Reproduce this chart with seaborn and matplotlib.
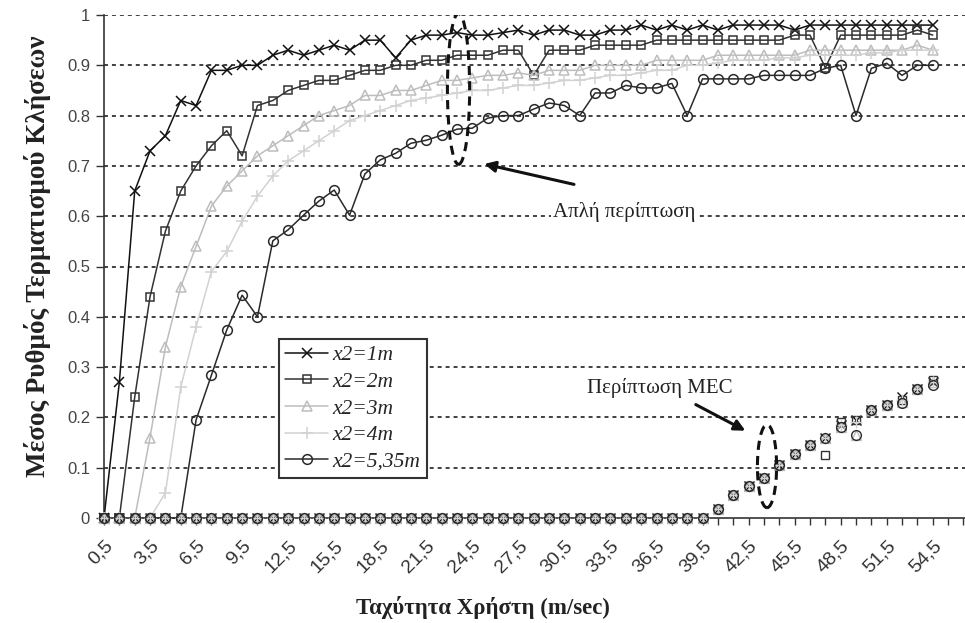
import numpy as np
import pandas as pd
import matplotlib
matplotlib.use("Agg")
import matplotlib.pyplot as plt
import seaborn as sns
from matplotlib.patches import Ellipse

# ---------------- data ----------------
speeds = np.arange(0.5, 55.0, 1.0)           # category positions 0.5 ... 54.5
tick_speeds = [0.5, 3.5, 6.5, 9.5, 12.5, 15.5, 18.5, 21.5, 24.5, 27.5,
               30.5, 33.5, 36.5, 39.5, 42.5, 45.5, 48.5, 51.5, 54.5]
tick_labels = ["0,5", "3,5", "6,5", "9,5", "12,5", "15,5", "18,5", "21,5", "24,5", "27,5",
               "30,5", "33,5", "36,5", "39,5", "42,5", "45,5", "48,5", "51,5", "54,5"]
y_ticks = [0, 0.1, 0.2, 0.3, 0.4, 0.5, 0.6, 0.7, 0.8, 0.9, 1.0]
y_tick_labels = ["0", "0.1", "0.2", "0.3", "0.4", "0.5", "0.6", "0.7", "0.8", "0.9", "1"]

series_names = ["x2=1m", "x2=2m", "x2=3m", "x2=4m", "x2=5,35m"]

# "Απλή περίπτωση" curves
simple_1m = [0, 0.27, 0.65, 0.73, 0.76, 0.83, 0.82, 0.89, 0.89, 0.90,
             0.90, 0.92, 0.93, 0.92, 0.93, 0.94, 0.93, 0.95, 0.95, 0.915,
             0.95, 0.96, 0.96, 0.965, 0.96, 0.96, 0.965, 0.97, 0.96, 0.97,
             0.97, 0.96, 0.96, 0.97, 0.97, 0.98, 0.97, 0.98, 0.97, 0.98,
             0.97, 0.98, 0.98, 0.98, 0.98, 0.97, 0.98, 0.98, 0.98, 0.98,
             0.98, 0.98, 0.98, 0.98, 0.98]
simple_2m = [0, 0, 0.24, 0.44, 0.57, 0.65, 0.70, 0.74, 0.77, 0.72,
             0.82, 0.83, 0.85, 0.86, 0.87, 0.87, 0.88, 0.89, 0.89, 0.90,
             0.90, 0.91, 0.91, 0.92, 0.92, 0.92, 0.93, 0.93, 0.88, 0.93,
             0.93, 0.93, 0.94, 0.94, 0.94, 0.94, 0.95, 0.95, 0.95, 0.95,
             0.95, 0.95, 0.95, 0.95, 0.95, 0.96, 0.96, 0.895, 0.96, 0.96,
             0.96, 0.96, 0.96, 0.97, 0.96]
simple_3m = [0, 0, 0, 0.16, 0.34, 0.46, 0.54, 0.62, 0.66, 0.69,
             0.72, 0.74, 0.76, 0.78, 0.80, 0.81, 0.82, 0.84, 0.84, 0.85,
             0.85, 0.86, 0.87, 0.87, 0.875, 0.88, 0.88, 0.885, 0.88, 0.89,
             0.89, 0.89, 0.90, 0.90, 0.90, 0.90, 0.91, 0.91, 0.91, 0.91,
             0.92, 0.92, 0.92, 0.92, 0.92, 0.92, 0.93, 0.93, 0.93, 0.93,
             0.93, 0.93, 0.93, 0.94, 0.93]
simple_4m = [0, 0, 0, 0, 0.05, 0.26, 0.38, 0.49, 0.53, 0.59,
             0.64, 0.68, 0.71, 0.73, 0.75, 0.77, 0.79, 0.80, 0.81, 0.82,
             0.83, 0.835, 0.84, 0.845, 0.85, 0.85, 0.855, 0.86, 0.86, 0.865,
             0.87, 0.87, 0.875, 0.88, 0.88, 0.885, 0.89, 0.89, 0.90, 0.90,
             0.905, 0.91, 0.91, 0.91, 0.915, 0.915, 0.92, 0.92, 0.92, 0.92,
             0.925, 0.925, 0.93, 0.93, 0.93]
simple_535m = [0, 0, 0, 0, 0, 0, 0.195, 0.284, 0.374, 0.443,
               0.40, 0.551, 0.573, 0.602, 0.63, 0.652, 0.602, 0.684, 0.712, 0.725,
               0.745, 0.751, 0.761, 0.773, 0.775, 0.795, 0.80, 0.80, 0.813, 0.825,
               0.82, 0.80, 0.845, 0.845, 0.86, 0.855, 0.855, 0.864, 0.80, 0.873,
               0.873, 0.873, 0.873, 0.88, 0.88, 0.88, 0.88, 0.894, 0.90, 0.80,
               0.894, 0.904, 0.88, 0.90, 0.90]

# "Περίπτωση MEC" curves (markers only)
mec_1m = [0, 0, 0, 0, 0, 0, 0, 0, 0, 0,
          0, 0, 0, 0, 0, 0, 0, 0, 0, 0,
          0, 0, 0, 0, 0, 0, 0, 0, 0, 0,
          0, 0, 0, 0, 0, 0, 0, 0, 0, 0,
          0.017, 0.045, 0.063, 0.08, 0.105, 0.127, 0.145, 0.16, 0.185, 0.195,
          0.215, 0.225, 0.24, 0.256, 0.27]
mec_2m = [0, 0, 0, 0, 0, 0, 0, 0, 0, 0,
          0, 0, 0, 0, 0, 0, 0, 0, 0, 0,
          0, 0, 0, 0, 0, 0, 0, 0, 0, 0,
          0, 0, 0, 0, 0, 0, 0, 0, 0, 0,
          0.017, 0.045, 0.063, 0.08, 0.105, 0.127, 0.145, 0.125, 0.19, 0.195,
          0.215, 0.225, 0.235, 0.256, 0.275]
mec_3m = [0, 0, 0, 0, 0, 0, 0, 0, 0, 0,
          0, 0, 0, 0, 0, 0, 0, 0, 0, 0,
          0, 0, 0, 0, 0, 0, 0, 0, 0, 0,
          0, 0, 0, 0, 0, 0, 0, 0, 0, 0,
          0.017, 0.045, 0.063, 0.08, 0.105, 0.127, 0.145, 0.16, 0.18, 0.165,
          0.215, 0.225, 0.23, 0.256, 0.27]
mec_4m = [0, 0, 0, 0, 0, 0, 0, 0, 0, 0,
          0, 0, 0, 0, 0, 0, 0, 0, 0, 0,
          0, 0, 0, 0, 0, 0, 0, 0, 0, 0,
          0, 0, 0, 0, 0, 0, 0, 0, 0, 0,
          0.017, 0.045, 0.063, 0.08, 0.105, 0.127, 0.145, 0.16, 0.185, 0.19,
          0.215, 0.225, 0.235, 0.256, 0.27]
mec_535m = [0, 0, 0, 0, 0, 0, 0, 0, 0, 0,
            0, 0, 0, 0, 0, 0, 0, 0, 0, 0,
            0, 0, 0, 0, 0, 0, 0, 0, 0, 0,
            0, 0, 0, 0, 0, 0, 0, 0, 0, 0,
            0.017, 0.045, 0.063, 0.08, 0.105, 0.127, 0.145, 0.16, 0.18, 0.165,
            0.215, 0.225, 0.228, 0.256, 0.265]

simple_all = [simple_1m, simple_2m, simple_3m, simple_4m, simple_535m]
mec_all = [mec_1m, mec_2m, mec_3m, mec_4m, mec_535m]

# ---------------- style ----------------
sns.set_theme(style="white")
plt.rcParams["font.family"] = ["Liberation Sans", "DejaVu Sans"]

colors = ["#111111", "#333333", "#bdbdbd", "#d2d2d2", "#2a2a2a"]
markers = ["x", "s", "^", "+", "o"]
msizes = [7, 6, 7, 8, 7]

fig = plt.figure(figsize=(9.65, 6.23), dpi=100)
ax = fig.add_axes([104 / 965, 105 / 623, 861 / 965, 503 / 623])

for vals, name, c, m, ms in zip(simple_all, series_names, colors, markers, msizes):
    df = pd.DataFrame({"speed": speeds, "rate": vals})
    sns.lineplot(data=df, x="speed", y="rate", ax=ax, color=c, marker=m,
                 markersize=ms, markerfacecolor="none", markeredgecolor=c,
                 markeredgewidth=1.1, linewidth=1.1, label=name,
                 clip_on=False, zorder=3)

for vals, c, m, ms in zip(mec_all, colors, markers, msizes):
    df = pd.DataFrame({"speed": speeds, "rate": vals})
    sns.lineplot(data=df, x="speed", y="rate", ax=ax, color=c, marker=m,
                 markersize=ms, markerfacecolor="none", markeredgecolor=c,
                 markeredgewidth=1.0, linestyle="", clip_on=False, zorder=3)

# axes
ax.set_xlim(0.5, 56.6)
ax.set_ylim(0, 1)
ax.set_yticks(y_ticks)
ax.set_yticklabels(y_tick_labels)
ax.set_xticks(tick_speeds)
ax.set_xticklabels(tick_labels, rotation=45, ha="right", rotation_mode="anchor")
ax.set_xticks(np.arange(0.5, 57.0, 1.0), minor=True)
ax.tick_params(axis="x", which="both", direction="out", length=5, width=1,
               color="#333333", bottom=True, labelsize=14, labelcolor="#333333", pad=9)
ax.tick_params(axis="y", direction="out", length=6, width=1, color="#333333",
               left=True, labelsize=12, labelcolor="#444444", pad=4)

for s in ["top", "right"]:
    ax.spines[s].set_visible(False)
for s in ["left", "bottom"]:
    ax.spines[s].set_color("#333333")
    ax.spines[s].set_linewidth(1.2)

for yv in y_ticks[1:]:
    ax.axhline(yv, color="#333333", lw=1.3, ls=(0, (2.2, 2.2)), zorder=1)

serif = ["Liberation Serif", "DejaVu Serif"]
ax.set_xlabel("Ταχύτητα Χρήστη (m/sec)", family=serif, fontweight="bold",
              fontsize=16.5, color="#222222")
ax.xaxis.set_label_coords(0.44, -0.155)
ax.set_ylabel("Μέσος Ρυθμός Τερματισμού Κλήσεων", family=serif, fontweight="bold",
              fontsize=19.5, color="#222222")
ax.yaxis.set_label_coords(-0.062, 0.52)

# legend
leg = ax.legend(loc="upper left", bbox_to_anchor=(0.203, 0.356), frameon=True,
                fancybox=False, edgecolor="#333333", framealpha=1,
                prop={"family": serif, "style": "italic", "size": 15.5},
                handlelength=2.0, handletextpad=0.2, labelspacing=0.3,
                borderpad=0.3, borderaxespad=0)
leg.get_frame().set_linewidth(1.5)

# annotations
ax.add_patch(Ellipse((23.6, 0.853), width=1.45, height=0.30, fill=False,
                     ec="#111111", lw=2.2, ls=(0, (3, 2)), zorder=4))
ax.annotate("", xy=(25.1, 0.705), xytext=(31.3, 0.662),
            arrowprops=dict(arrowstyle="-|>", color="#111111", lw=2.2,
                            mutation_scale=16), zorder=4)
ax.text(29.75, 0.608, "Απλή περίπτωση", family=serif, fontsize=15,
        color="#222222", ha="left", va="center", zorder=4,
        bbox=dict(facecolor="white", edgecolor="none", pad=1.5))

ax.add_patch(Ellipse((43.7, 0.103), width=1.25, height=0.165, fill=False,
                     ec="#111111", lw=2.2, ls=(0, (3, 2)), zorder=4))
ax.annotate("", xy=(42.45, 0.171), xytext=(38.9, 0.228),
            arrowprops=dict(arrowstyle="-|>", color="#111111", lw=2.2,
                            mutation_scale=16), zorder=4)
ax.text(31.96, 0.258, "Περίπτωση MEC", family=serif, fontsize=15,
        color="#222222", ha="left", va="center", zorder=4,
        bbox=dict(facecolor="white", edgecolor="none", pad=1.5))

fig.savefig("out.png", dpi=100)
